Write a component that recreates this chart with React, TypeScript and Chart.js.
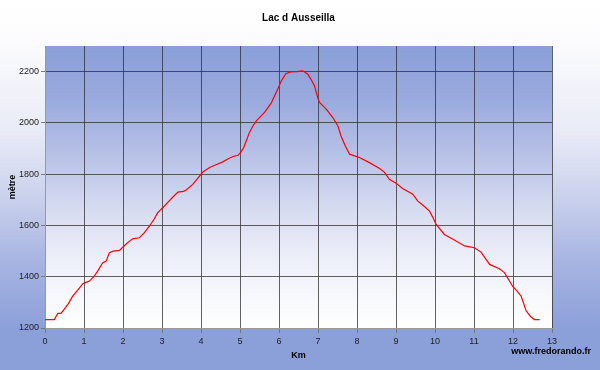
import React, { useEffect, useRef } from "react";
import { Chart, registerables } from "chart.js";

Chart.register(...registerables);

const chartTitle = "Lac d Ausseilla";
const xTitle = "Km";
const yTitle = "mètre";
const credit = "www.fredorando.fr";

const distanceKm = [
  0, 0.24, 0.3, 0.33, 0.41, 0.5, 0.6, 0.71, 0.85, 0.97, 1.05, 1.14, 1.25, 1.35, 1.48, 1.57, 1.65, 1.75, 1.91,
  2.04, 2.15, 2.25, 2.42, 2.55, 2.68, 2.8, 2.89, 3.02, 3.15, 3.28, 3.41, 3.55, 3.62, 3.79, 3.92, 4.05, 4.22,
  4.4, 4.56, 4.7, 4.82, 4.95, 5.02, 5.1, 5.24, 5.32, 5.42, 5.63, 5.8, 5.9, 5.97, 6.06, 6.18, 6.31, 6.45, 6.61,
  6.74, 6.82, 6.91, 7.0, 7.04, 7.21, 7.38, 7.51, 7.59, 7.7, 7.81, 8.06, 8.32, 8.58, 8.7, 8.83, 9.0, 9.17, 9.43,
  9.56, 9.7, 9.86, 9.95, 10.03, 10.24, 10.46, 10.76, 11.01, 11.18, 11.3, 11.4, 11.65, 11.78, 11.99, 12.1,
  12.21, 12.34, 12.45, 12.55, 12.68,
];

const altitudeM = [
  1233, 1233, 1250, 1257, 1257, 1275, 1295, 1324, 1350, 1373, 1378, 1383, 1400, 1422, 1455, 1461, 1494, 1500, 1503,
  1522, 1537, 1548, 1552, 1572, 1598, 1625, 1650, 1669, 1690, 1711, 1730, 1733, 1738, 1760, 1785, 1809, 1826,
  1838, 1848, 1860, 1869, 1874, 1885, 1905, 1962, 1985, 2008, 2041, 2077, 2110, 2132, 2164, 2193, 2199, 2200, 2203,
  2190, 2170, 2145, 2095, 2080, 2054, 2021, 1988, 1949, 1910, 1878, 1865, 1845, 1822, 1808, 1780, 1765, 1744, 1722,
  1695, 1678, 1656, 1630, 1604, 1565, 1546, 1520, 1513, 1496, 1470, 1448, 1431, 1416, 1363, 1345,
  1324, 1266, 1245, 1233, 1233,
];

const xMin = 0;
const xMax = 13;
const yMin = 1200;
const yMax = 2300;
const yStep = 200;

const FONT = "'Liberation Sans', Arial, sans-serif";

const backgroundPlugin = {
  id: "bgPlugin",
  beforeDraw(chart: any) {
    const { ctx, width, height, chartArea } = chart;
    ctx.save();
    const g = ctx.createLinearGradient(0, 0, 0, height);
    g.addColorStop(0, "#ffffff");
    g.addColorStop(40 / 370, "#fcfcfe");
    g.addColorStop(130 / 370, "#e9ebf6");
    g.addColorStop(200 / 370, "#c9d0ec");
    g.addColorStop(260 / 370, "#a8b5e2");
    g.addColorStop(330 / 370, "#8b9fd9");
    g.addColorStop(1, "#8b9fd9");
    ctx.fillStyle = g;
    ctx.fillRect(0, 0, width, height);

    const { left, top, right, bottom } = chartArea;
    const p = ctx.createLinearGradient(0, top, 0, bottom);
    p.addColorStop(0, "#8a9fd8");
    p.addColorStop(0.19, "#9aaade");
    p.addColorStop(0.37, "#b5bfe6");
    p.addColorStop(0.55, "#d2d8ef");
    p.addColorStop(0.72, "#e9ebf7");
    p.addColorStop(0.87, "#f6f7fc");
    p.addColorStop(1, "#ffffff");
    ctx.fillStyle = p;
    ctx.fillRect(left, top, right - left, bottom - top);
    ctx.restore();
  },
  afterDraw(chart: any) {
    const { ctx, chartArea } = chart;
    const { left, top, right, bottom } = chartArea;
    ctx.save();
    ctx.fillStyle = "#000";
    ctx.textAlign = "center";
    ctx.textBaseline = "middle";
    ctx.font = `bold 10px ${FONT}`;
    ctx.fillText(chartTitle, (left + right) / 2, 18);
    ctx.font = `bold 9px ${FONT}`;
    ctx.fillText(xTitle, (left + right) / 2, 356);
    ctx.save();
    ctx.translate(13, (top + bottom) / 2);
    ctx.rotate(-Math.PI / 2);
    ctx.fillText(yTitle, 0, 0);
    ctx.restore();
    ctx.textAlign = "right";
    ctx.fillText(credit, 591, 352);
    ctx.restore();
  },
};

export default function App() {
  const ref = useRef<HTMLCanvasElement | null>(null);
  useEffect(() => {
    if (!ref.current) return;
    const points = distanceKm.map((x, i) => ({ x, y: altitudeM[i] }));
    const chart = new Chart(ref.current, {
      type: "line",
      data: {
        datasets: [
          {
            data: points,
            borderColor: "#ff0000",
            borderWidth: 1.2,
            pointRadius: 0,
            tension: 0,
            fill: false,
          },
        ],
      },
      options: {
        animation: false,
        responsive: false,
        layout: { padding: { top: 46, right: 48, left: 0, bottom: 0 } },
        plugins: {
          legend: { display: false },
          title: { display: false },
          tooltip: { enabled: false },
        },
        scales: {
          x: {
            type: "linear",
            min: xMin,
            max: xMax,
            afterFit: (s: any) => {
              s.height = 42;
            },
            ticks: {
              stepSize: 1,
              padding: 3,
              color: "#222",
              font: { family: FONT, size: 9 },
              maxRotation: 0,
              callback: (v: any) => String(v),
            },
            grid: {
              color: "rgba(45,45,45,0.75)",
              lineWidth: 1,
              tickLength: 5,
              tickColor: "#777",
            },
            border: { color: "#999", width: 1 },
          },
          y: {
            type: "linear",
            min: yMin,
            max: yMax,
            afterFit: (s: any) => {
              s.width = 45;
            },
            ticks: {
              stepSize: yStep,
              includeBounds: false,
              padding: 2,
              color: "#222",
              font: { family: FONT, size: 9 },
              callback: (v: any) => String(v),
            },
            grid: {
              color: "rgba(45,45,45,0.75)",
              lineWidth: 1,
              tickLength: 4,
              tickColor: "#777",
            },
            border: { color: "#999", width: 1 },
          },
        },
      },
      plugins: [backgroundPlugin],
    });
    return () => chart.destroy();
  }, []);
  return (
    <div style={{ position: "fixed", left: 0, top: 0, width: 600, height: 370 }}>
      <canvas ref={ref} width={600} height={370} style={{ display: "block" }} />
    </div>
  );
}
